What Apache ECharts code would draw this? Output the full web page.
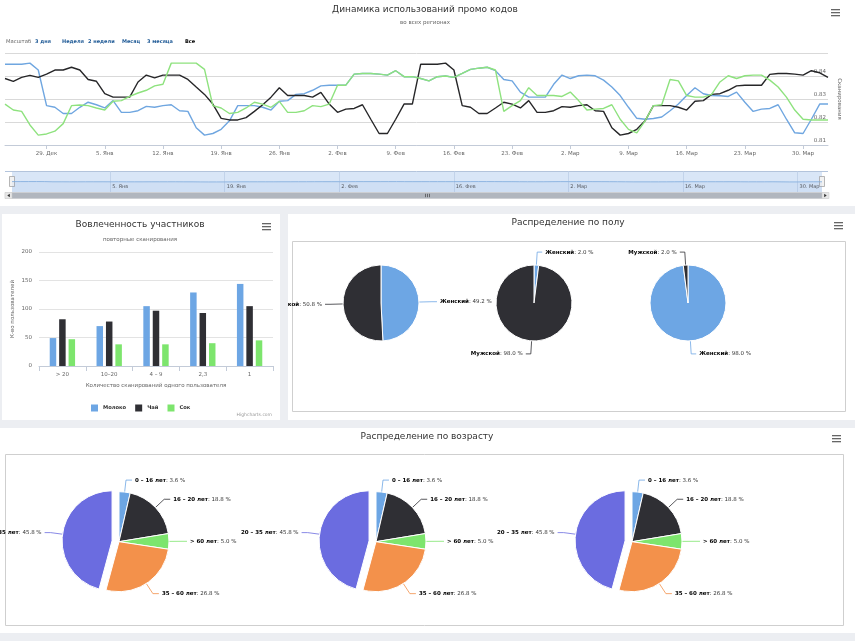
<!DOCTYPE html>
<html>
<head>
<meta charset="utf-8">
<script src="https://cdn.jsdelivr.net/npm/echarts/dist/echarts.min.js"></script>
<style>
html,body{margin:0;padding:0;background:#eceef2;overflow:hidden;}
#wrap{position:relative;width:855px;height:641px;background:#eceef2;}
.panel{position:absolute;background:#fff;}
#main{position:absolute;left:0;top:0;width:855px;height:641px;}
#gender{position:absolute;left:288px;top:214px;width:567px;height:206px;}
</style>
</head>
<body>
<div id="wrap">
  <div class="panel" style="left:0;top:0;width:855px;height:206px"></div>
  <div class="panel" style="left:2px;top:214px;width:278px;height:206px"></div>
  <div class="panel" style="left:288px;top:214px;width:567px;height:206px"></div>
  <div class="panel" style="left:0;top:428px;width:855px;height:205px"></div>
  <div id="main"></div>
  <div id="gender"></div>
</div>
<script>
// ---------------- DATA ----------------
const START_DATE = '2014-12-24';
const MONTHS_RU = ['Янв','Фев','Мар','Апр','Май','Июн','Июл','Авг','Сен','Окт','Ноя','Дек'];
const weekTicks = ['29. Дек','5. Янв','12. Янв','19. Янв','26. Янв','2. Фев','9. Фев','16. Фев','23. Фев','2. Мар','9. Мар','16. Мар','23. Мар','30. Мар'];
const navTicks = ['5. Янв','19. Янв','2. Фев','16. Фев','2. Мар','16. Мар','30. Мар'];
const rangeLabel = 'Масштаб';
const rangeButtons = ['3 дня','Неделя','2 недели','Месяц','3 месяца','Все'];

const scansMilk = [
  0.8451,0.8451,0.8451,0.8456,0.8426,0.8271,0.8264,0.8237,0.8237,0.8264,
  0.8286,0.8275,0.8261,0.8293,0.8242,0.8242,0.8249,0.8268,0.8264,0.8271,
  0.8275,0.8249,0.8246,0.8175,0.8143,0.8150,0.8168,0.8205,0.8271,0.8271,
  0.8271,0.8264,0.8252,0.8290,0.8293,0.8320,0.8323,0.8338,0.8357,0.8360,
  0.8360,0.8360,0.8408,0.8411,0.8411,0.8408,0.8404,0.8423,0.8397,0.8397,
  0.8389,0.8379,0.8397,0.8400,0.8394,0.8411,0.8429,0.8434,0.8438,0.8423,
  0.8385,0.8379,0.8330,0.8308,0.8308,0.8308,0.8364,0.8404,0.8389,0.8401,
  0.8404,0.8401,0.8382,0.8352,0.8315,0.8264,0.8216,0.8212,0.8215,0.8222,
  0.8249,0.8278,0.8315,0.8349,0.8323,0.8315,0.8314,0.8311,0.8330,0.8286,
  0.8246,0.8256,0.8259,0.8275,0.8212,0.8153,0.8150,0.8212,0.8278,0.8278
];
const scansTea = [
  0.8389,0.8377,0.8394,0.8403,0.8394,0.8408,0.8426,0.8426,0.8438,0.8426,
  0.8385,0.8377,0.8323,0.8308,0.8308,0.8308,0.8374,0.8404,0.8392,0.8404,
  0.8404,0.8404,0.8385,0.8352,0.8320,0.8278,0.8216,0.8209,0.8209,0.8219,
  0.8246,0.8275,0.8308,0.8349,0.8315,0.8315,0.8315,0.8308,0.8329,0.8278,
  0.8242,0.8256,0.8259,0.8275,0.8212,0.8150,0.8150,0.8212,0.8278,0.8278,
  0.8451,0.8451,0.8451,0.8456,0.8426,0.8271,0.8264,0.8237,0.8237,0.8261,
  0.8286,0.8278,0.8261,0.8293,0.8242,0.8242,0.8249,0.8267,0.8264,0.8271,
  0.8275,0.8249,0.8246,0.8175,0.8143,0.8150,0.8168,0.8205,0.8271,0.8271,
  0.8271,0.8264,0.8252,0.8290,0.8293,0.8320,0.8323,0.8338,0.8357,0.8360,
  0.8360,0.8360,0.8407,0.8411,0.8411,0.8408,0.8404,0.8423,0.8414,0.8394
];
const scansJuice = [
  0.8278,0.8252,0.8246,0.8187,0.8143,0.8148,0.8160,0.8193,0.8271,0.8274,
  0.8271,0.8261,0.8252,0.8290,0.8293,0.8311,0.8326,0.8338,0.8357,0.8364,
  0.8456,0.8456,0.8456,0.8456,0.8429,0.8271,0.8261,0.8237,0.8242,0.8261,
  0.8286,0.8278,0.8264,0.8290,0.8242,0.8242,0.8249,0.8271,0.8267,0.8278,
  0.8360,0.8360,0.8408,0.8411,0.8411,0.8408,0.8404,0.8423,0.8397,0.8397,
  0.8389,0.8379,0.8397,0.8400,0.8394,0.8411,0.8429,0.8434,0.8438,0.8426,
  0.8246,0.8271,0.8293,0.8349,0.8315,0.8315,0.8315,0.8311,0.8330,0.8293,
  0.8252,0.8256,0.8259,0.8275,0.8212,0.8168,0.8153,0.8205,0.8271,0.8275,
  0.8385,0.8379,0.8315,0.8308,0.8308,0.8320,0.8374,0.8401,0.8389,0.8401,
  0.8404,0.8404,0.8382,0.8352,0.8308,0.8252,0.8212,0.8209,0.8209,0.8209
];

const engageCategories = ['> 20','10–20','4 – 9','2,3','1'];
const engageMilk  = [49, 70, 105, 129, 144];
const engageTea   = [82, 78, 97, 93, 105];
const engageJuice = [47, 38, 38, 40, 45];

const genderNames = ['Женский','Мужской'];
const genderSet1 = [49.2, 50.8];
const genderSet2 = [2.0, 98.0];
const genderSet3 = [98.0, 2.0];

const ageNames = ['0 – 16 лет','16 – 20 лет','> 60 лет','35 – 60 лет','20 – 35 лет'];
const ageSet1 = [3.6, 18.8, 5.0, 26.8, 45.8];
const ageSet2 = [3.6, 18.8, 5.0, 26.8, 45.8];
const ageSet3 = [3.6, 18.8, 5.0, 26.8, 45.8];

// ---------------- STYLE ----------------
const FONT = 'DejaVu Sans';
const C_BLUE = '#6da6e4', C_BLACK = '#2f2f34', C_GREEN = '#7de56d', C_ORANGE = '#f3914b', C_PURPLE = '#6b6ce0';
const L_BLUE = '#6fa6e0', L_BLACK = '#262628', L_GREEN = '#8ee27e';
const GENDER_COLORS = [C_BLUE, C_BLACK];
const AGE_COLORS = [C_BLUE, C_BLACK, C_GREEN, C_ORANGE, C_PURPLE];

const days = scansMilk.map((_, i) => {
  const d = new Date(START_DATE + 'T00:00:00Z');
  d.setUTCDate(d.getUTCDate() + i);
  return d.getUTCDate() + '. ' + MONTHS_RU[d.getUTCMonth()];
});
const isWeekTick = (i, v) => weekTicks.indexOf(v) >= 0;
const isNavTick = (i, v) => navTicks.indexOf(v) >= 0;

function menuIcon(x, y) {
  return { type: 'group', x: x, y: y, children: [0, 3, 6].map(dy => ({
    type: 'rect', shape: { x: 0, y: dy, width: 9, height: 1.3 }, style: { fill: '#666' } })) };
}
function pieLabel(p) { return '{b|' + p.name + '}: ' + p.value.toFixed(1) + ' %'; }

const titleStyle = { fontSize: 9, fontWeight: 'normal', color: '#333', fontFamily: FONT };
const subStyle = { fontSize: 5.5, color: '#666', fontFamily: FONT };

// range selector graphics
const rangeX = [35, 62, 88, 122, 147, 185];
const graphicsMain = [
  { type: 'text', x: 6, y: 41.5, style: { text: rangeLabel, fontSize: 5.3, fontFamily: FONT, fill: '#666', verticalAlign: 'middle' } }
].concat(rangeButtons.map((t, i) => ({
  type: 'text', x: rangeX[i], y: 41.5,
  style: { text: t, fontSize: 5, fontWeight: 'bold', fontFamily: FONT, fill: i === rangeButtons.length - 1 ? '#000' : '#1f5a96', verticalAlign: 'middle' }
}))).concat([
  menuIcon(831, 9), menuIcon(262, 223), menuIcon(832, 435),
  // navigator outline + handles
  { type: 'line', shape: { x1: 5, y1: 171.5, x2: 828, y2: 171.5 }, style: { stroke: '#b3c4dc', lineWidth: 1 } },
  { type: 'rect', shape: { x: 9.5, y: 176.5, width: 5, height: 10 }, style: { fill: '#f2f2f2', stroke: '#999', lineWidth: 0.7 } },
  { type: 'rect', shape: { x: 819.5, y: 176.5, width: 5, height: 10 }, style: { fill: '#f2f2f2', stroke: '#999', lineWidth: 0.7 } },
  // scrollbar
  { type: 'rect', shape: { x: 5, y: 192.5, width: 823, height: 6 }, style: { fill: '#eeeeee', stroke: '#dddddd', lineWidth: 0.5 } },
  { type: 'rect', shape: { x: 12, y: 192.5, width: 810, height: 6 }, style: { fill: '#b1b6be' } },
  { type: 'rect', shape: { x: 5, y: 192.5, width: 7, height: 6 }, style: { fill: '#e6e6e6', stroke: '#c8c8c8', lineWidth: 0.5 } },
  { type: 'rect', shape: { x: 822, y: 192.5, width: 7, height: 6 }, style: { fill: '#e6e6e6', stroke: '#c8c8c8', lineWidth: 0.5 } },
  { type: 'polygon', shape: { points: [[9.8, 193.8], [9.8, 197.2], [7.3, 195.5]] }, style: { fill: '#333' } },
  { type: 'polygon', shape: { points: [[824.2, 193.8], [824.2, 197.2], [826.7, 195.5]] }, style: { fill: '#333' } },
  { type: 'line', shape: { x1: 425.5, y1: 193.8, x2: 425.5, y2: 197.2 }, style: { stroke: '#333', lineWidth: 0.6 } },
  { type: 'line', shape: { x1: 427.5, y1: 193.8, x2: 427.5, y2: 197.2 }, style: { stroke: '#333', lineWidth: 0.6 } },
  { type: 'line', shape: { x1: 429.5, y1: 193.8, x2: 429.5, y2: 197.2 }, style: { stroke: '#333', lineWidth: 0.6 } },
  // age box
  { type: 'rect', shape: { x: 5.5, y: 454.5, width: 838, height: 171 }, style: { fill: 'none', stroke: '#cfcfcf', lineWidth: 1 } },
  // credit
  { type: 'text', x: 272, y: 415, style: { text: 'Highcharts.com', fontSize: 4.5, fontFamily: FONT, fill: '#999', align: 'right', verticalAlign: 'middle' } }
]);

function agePie(values, cx) {
  return {
    type: 'pie', center: [cx, 541.7], radius: 50, startAngle: 90, clockwise: true,
    selectedMode: 'single', selectedOffset: 7, animation: false,
    data: values.map((v, i) => ({ name: ageNames[i], value: v, selected: i === 4, itemStyle: { color: AGE_COLORS[i] } })),
    itemStyle: { borderColor: '#fff', borderWidth: 1 },
    select: { itemStyle: { borderColor: '#fff', borderWidth: 1 } },
    label: { formatter: pieLabel, fontSize: 5.5, fontFamily: FONT, color: '#333', distanceToLabelLine: 3, overflow: 'none',
      rich: { b: { fontWeight: 'bold', color: '#000', fontSize: 5.5, fontFamily: FONT } } },
    labelLine: { length: 12, length2: 6, smooth: false, lineStyle: { width: 0.8 } },
    emphasis: { disabled: true }
  };
}

const mainOption = {
  backgroundColor: 'transparent',
  animation: false,
  textStyle: { fontFamily: FONT },
  title: [
    { text: 'Динамика использований промо кодов', subtext: 'во всех регионах', left: 425, textAlign: 'center', top: 5, itemGap: 6, padding: 0, textStyle: titleStyle, subtextStyle: subStyle },
    { text: 'Вовлеченность участников', subtext: 'повторные сканирования', left: 140, textAlign: 'center', top: 220, itemGap: 8, padding: 0, textStyle: titleStyle, subtextStyle: subStyle },
    { text: 'Распределение по возрасту', left: 427, textAlign: 'center', top: 432, padding: 0, textStyle: titleStyle }
  ],
  legend: {
    data: ['Молоко', 'Чай', 'Сок'], left: 91, top: 404.5, padding: 0, itemWidth: 7, itemHeight: 7, itemGap: 9,
    icon: 'rect', selectedMode: false,
    textStyle: { fontSize: 5.2, fontWeight: 'bold', color: '#333', fontFamily: FONT }
  },
  grid: [
    { left: 5, top: 53, width: 823, height: 92 },
    { left: 12, top: 171.5, width: 810, height: 20.5, show: true, backgroundColor: '#d9e6f7', borderWidth: 0 },
    { left: 39, top: 252, width: 234, height: 114 }
  ],
  xAxis: [
    { gridIndex: 0, type: 'category', data: days, boundaryGap: false,
      axisLine: { lineStyle: { color: '#c3cbd8' } },
      axisTick: { show: true, length: 4, interval: isWeekTick, lineStyle: { color: '#c3cbd8' } },
      axisLabel: { interval: isWeekTick, fontSize: 5.5, color: '#666', margin: 6, fontFamily: FONT },
      splitLine: { show: false } },
    { gridIndex: 1, type: 'category', data: days, boundaryGap: false,
      axisLine: { show: false }, axisTick: { show: false },
      axisLabel: { inside: true, interval: isNavTick, align: 'left', fontSize: 5, color: '#555', margin: 2.5, padding: [0, 0, 0, 2], fontFamily: FONT },
      splitLine: { show: true, interval: isNavTick, lineStyle: { color: '#c2d3ea', width: 1 } } },
    { gridIndex: 2, type: 'category', data: engageCategories,
      axisLine: { lineStyle: { color: '#c3cbd8' } },
      axisTick: { show: true, length: 5, lineStyle: { color: '#c3cbd8' } },
      axisLabel: { fontSize: 5.5, color: '#666', margin: 5.5, fontFamily: FONT },
      name: 'Количество сканирований одного пользователя', nameLocation: 'middle', nameGap: 16.5,
      nameTextStyle: { fontSize: 5.5, color: '#666', fontFamily: FONT } }
  ],
  yAxis: [
    { gridIndex: 0, type: 'value', position: 'right', min: 0.81, max: 0.85, interval: 0.01,
      axisLine: { show: false }, axisTick: { show: false },
      axisLabel: { inside: true, showMaxLabel: false, formatter: v => v.toFixed(2), fontSize: 5.5, color: '#666', margin: 2, verticalAlign: 'bottom', padding: [0, 0, 1, 0], fontFamily: FONT },
      splitLine: { lineStyle: { color: '#d9d9d9', width: 1 } },
      name: 'Сканирования', nameLocation: 'middle', nameRotate: -90, nameGap: 6,
      nameTextStyle: { fontSize: 5.5, color: '#666', fontFamily: FONT } },
    { gridIndex: 1, type: 'value', min: 0, max: 1.66, show: false },
    { gridIndex: 2, type: 'value', min: 0, max: 200, interval: 50,
      axisLine: { show: false }, axisTick: { show: false },
      axisLabel: { fontSize: 5.5, color: '#666', margin: 7, fontFamily: FONT },
      splitLine: { lineStyle: { color: '#e3e3e3' } },
      name: 'К-во пользователей', nameLocation: 'middle', nameRotate: 90, nameGap: 23,
      nameTextStyle: { fontSize: 5.5, color: '#666', fontFamily: FONT } }
  ],
  series: [
    { type: 'line', name: 'Молоко (сканирования)', xAxisIndex: 0, yAxisIndex: 0, data: scansMilk, symbol: 'none', lineStyle: { width: 1.4, color: L_BLUE }, itemStyle: { color: L_BLUE } },
    { type: 'line', name: 'Чай (сканирования)', xAxisIndex: 0, yAxisIndex: 0, data: scansTea, symbol: 'none', lineStyle: { width: 1.4, color: L_BLACK }, itemStyle: { color: L_BLACK } },
    { type: 'line', name: 'Сок (сканирования)', xAxisIndex: 0, yAxisIndex: 0, data: scansJuice, symbol: 'none', lineStyle: { width: 1.4, color: L_GREEN }, itemStyle: { color: L_GREEN } },
    { type: 'line', name: 'Навигатор', xAxisIndex: 1, yAxisIndex: 1, data: scansMilk, symbol: 'none',
      lineStyle: { width: 0.8, color: '#7ea9dc' }, areaStyle: { color: 'rgba(110,150,215,0.12)' }, silent: true },
    { type: 'bar', name: 'Молоко', xAxisIndex: 2, yAxisIndex: 2, data: engageMilk, barWidth: 6.5, barGap: '45%', itemStyle: { color: C_BLUE } },
    { type: 'bar', name: 'Чай', xAxisIndex: 2, yAxisIndex: 2, data: engageTea, barWidth: 6.5, barGap: '45%', itemStyle: { color: C_BLACK } },
    { type: 'bar', name: 'Сок', xAxisIndex: 2, yAxisIndex: 2, data: engageJuice, barWidth: 6.5, barGap: '45%', itemStyle: { color: C_GREEN } },
    agePie(ageSet1, 119),
    agePie(ageSet2, 376),
    agePie(ageSet3, 632)
  ],
  graphic: graphicsMain
};

function genderPie(values, cx) {
  return {
    type: 'pie', center: [cx, 89], radius: 38, startAngle: 90, clockwise: true, animation: false,
    data: values.map((v, i) => ({ name: genderNames[i], value: v, itemStyle: { color: GENDER_COLORS[i] } })),
    itemStyle: { borderColor: '#fff', borderWidth: 1 },
    label: { formatter: pieLabel, fontSize: 5.5, fontFamily: FONT, color: '#333', distanceToLabelLine: 3, overflow: 'none',
      rich: { b: { fontWeight: 'bold', color: '#000', fontSize: 5.5, fontFamily: FONT } } },
    labelLine: { length: 13, length2: 5, smooth: false, lineStyle: { width: 0.8 } },
    emphasis: { disabled: true }
  };
}

const genderOption = {
  backgroundColor: 'transparent',
  animation: false,
  textStyle: { fontFamily: FONT },
  title: { text: 'Распределение по полу', left: 280, textAlign: 'center', top: 4.5, padding: 0, textStyle: titleStyle },
  series: [ genderPie(genderSet1, 93), genderPie(genderSet2, 246), genderPie(genderSet3, 400) ],
  graphic: [
    { type: 'rect', shape: { x: 4.5, y: 27.5, width: 553, height: 170 }, style: { fill: 'none', stroke: '#cfcfcf', lineWidth: 1 } },
    menuIcon(546, 8)
  ]
};

echarts.init(document.getElementById('main')).setOption(mainOption);
echarts.init(document.getElementById('gender')).setOption(genderOption);
</script>
</body>
</html>
